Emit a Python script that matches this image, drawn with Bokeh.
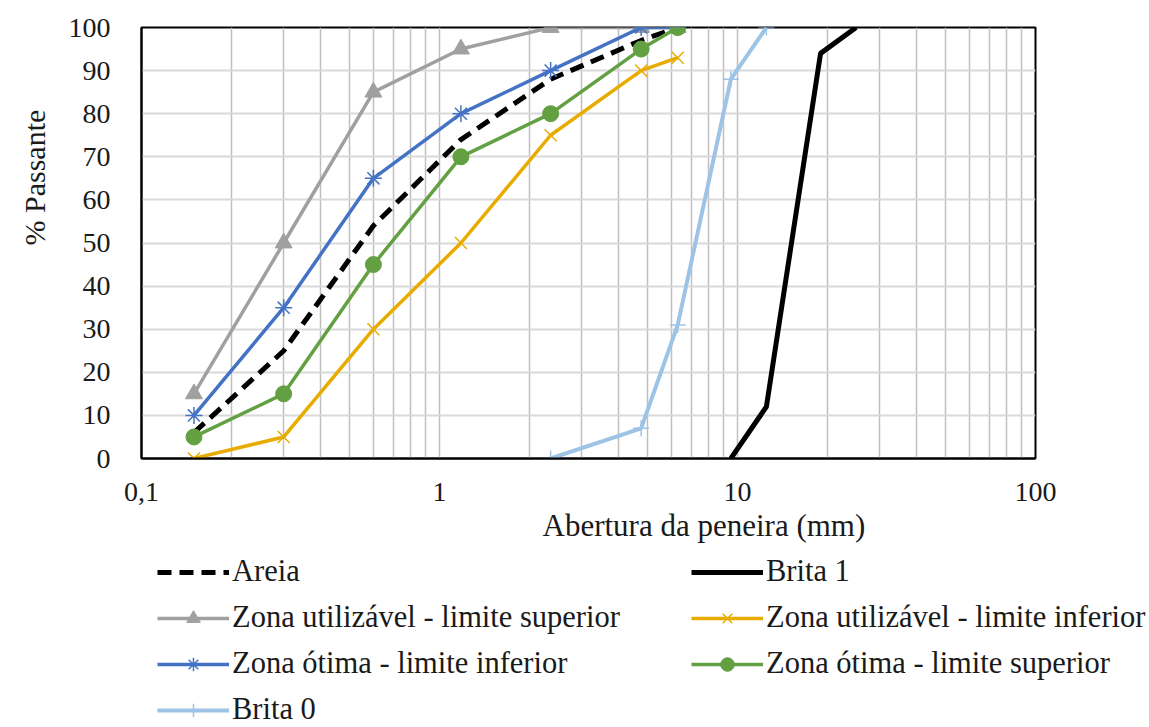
import math
from bokeh.plotting import figure
from bokeh.layouts import column
from bokeh.models import (FixedTicker, Legend, LegendItem, Title, CustomJSTickFormatter)
from bokeh.embed import file_html
from bokeh.resources import INLINE

# ---- data ----
sieves = [0.15, 0.3, 0.6, 1.18, 2.36, 4.75, 6.3]
areia = [6, 25, 54, 74, 88, 97, 100]
zu_sup = [15, 50, 85, 95, 100, 100, 100]
zu_inf = [0, 5, 30, 50, 75, 90, 93]
zo_inf = [10, 35, 65, 80, 90, 100, 100]
zo_sup = [5, 15, 45, 70, 80, 95, 100]
brita0_x = [2.36, 4.75, 6.3, 9.5, 12.5]
brita0_y = [0, 7, 31, 88, 100]
brita1_x = [9.5, 12.5, 19, 25]
brita1_y = [0, 12, 94, 100]

x_major = [0.1, 1, 10, 100]
y_major = list(range(0, 101, 10))

FONT = "Liberation Serif"
TXT = "#1a1a1a"

p = figure(width=1149, height=545, x_axis_type="log", x_range=(0.1, 100), y_range=(0, 100),
           output_backend="svg", toolbar_location=None,
           min_border_left=140, min_border_right=114, min_border_top=27, min_border_bottom=87)
p.outline_line_color = "black"
p.outline_line_width = 2

minor = [m * d for d in (0.1, 1, 10) for m in range(2, 10)]
p.xaxis.ticker = FixedTicker(ticks=x_major, minor_ticks=minor)
p.xaxis.formatter = CustomJSTickFormatter(
    code="return tick < 1 ? String(tick).replace('.', ',') : tick.toFixed(0);")
p.yaxis.ticker = FixedTicker(ticks=y_major)

for ax in (p.xaxis, p.yaxis):
    ax.major_tick_line_color = None
    ax.minor_tick_line_color = None
    ax.axis_line_color = "black"
    ax.axis_line_width = 2
    ax.major_label_text_font = FONT
    ax.major_label_text_font_size = "28px"
    ax.major_label_text_color = TXT
p.xaxis.major_label_standoff = 18
p.yaxis.major_label_standoff = 25

p.xgrid.grid_line_color = "#BFBFBF"
p.xgrid.grid_line_width = 1.5
p.xgrid.minor_grid_line_color = "#BFBFBF"
p.xgrid.minor_grid_line_width = 1.5
p.ygrid.grid_line_color = "#D9D9D9"
p.ygrid.grid_line_width = 2

GRAY, GOLD, BLUE, GREEN, LBLUE = "#A0A0A0", "#E8AC00", "#4472C4", "#63A041", "#9DC3E6"


def draw(fig):
    r = {}
    r["areia"] = [fig.line(sieves, areia, line_color="black", line_width=5, line_dash="14 8")]
    r["b1"] = [fig.line(brita1_x, brita1_y, line_color="black", line_width=5)]
    r["zus"] = [fig.line(sieves, zu_sup, line_color=GRAY, line_width=3.5),
                fig.scatter(sieves, zu_sup, marker="triangle", size=17, color=GRAY)]
    r["zui"] = [fig.line(sieves, zu_inf, line_color=GOLD, line_width=3.5),
                fig.scatter(sieves, zu_inf, marker="x", size=17, line_color=GOLD, line_width=1.5)]
    r["zoi"] = [fig.line(sieves, zo_inf, line_color=BLUE, line_width=3.5),
                fig.scatter(sieves, zo_inf, marker="asterisk", size=17, line_color=BLUE, line_width=1.5)]
    r["zos"] = [fig.line(sieves, zo_sup, line_color=GREEN, line_width=3.5),
                fig.scatter(sieves, zo_sup, marker="circle", size=16, color=GREEN)]
    r["b0"] = [fig.line(brita0_x, brita0_y, line_color=LBLUE, line_width=4),
               fig.scatter(brita0_x, brita0_y, marker="cross", size=16, line_color=LBLUE, line_width=1.5)]
    return r


draw(p)

# axis titles
xt = Title(text="Abertura da peneira (mm)", text_font=FONT, text_font_size="31px",
           text_font_style="normal", text_color=TXT, align="left", offset=401, standoff=5)
p.add_layout(xt, "below")
yt = Title(text="% Passante", text_font=FONT, text_font_size="30px",
           text_font_style="normal", text_color=TXT, align="left", offset=213, standoff=30)
p.add_layout(yt, "left")

# ---- legend strip: same series (kept out of its visible range), legend only ----
lg = figure(width=1149, height=182, x_axis_type="log", x_range=(0.1, 100), y_range=(1000, 1001),
            output_backend="svg", toolbar_location=None,
            min_border=0, min_border_left=0, min_border_right=0, min_border_top=0, min_border_bottom=0)
lg.axis.visible = False
lg.grid.visible = False
lg.outline_line_color = None
rr = draw(lg)

unaligned = "frame_align" in lg.properties()
if unaligned:
    lg.frame_align = False
    p.frame_align = False

items = [
    LegendItem(label="Areia", renderers=rr["areia"]),
    LegendItem(label="Brita 1", renderers=rr["b1"]),
    LegendItem(label="Zona utilizável - limite superior", renderers=rr["zus"]),
    LegendItem(label="Zona utilizável - limite inferior", renderers=rr["zui"]),
    LegendItem(label="Zona ótima - limite inferior", renderers=rr["zoi"]),
    LegendItem(label="Zona ótima - limite superior", renderers=rr["zos"]),
    LegendItem(label="Brita 0", renderers=rr["b0"]),
]
legend = Legend(items=items, orientation="horizontal", ncols=2,
                location=(157 if unaligned else 17, 0),
                glyph_width=72, glyph_height=34, label_height=34, label_width=448,
                label_standoff=3, spacing=11, padding=0, margin=0,
                border_line_color=None, background_fill_alpha=0,
                label_text_font=FONT, label_text_font_size="30.5px", label_text_color=TXT)
lg.add_layout(legend, "center")

layout = column(p, lg, spacing=0)
open("out.html", "w").write(file_html(layout, INLINE))
